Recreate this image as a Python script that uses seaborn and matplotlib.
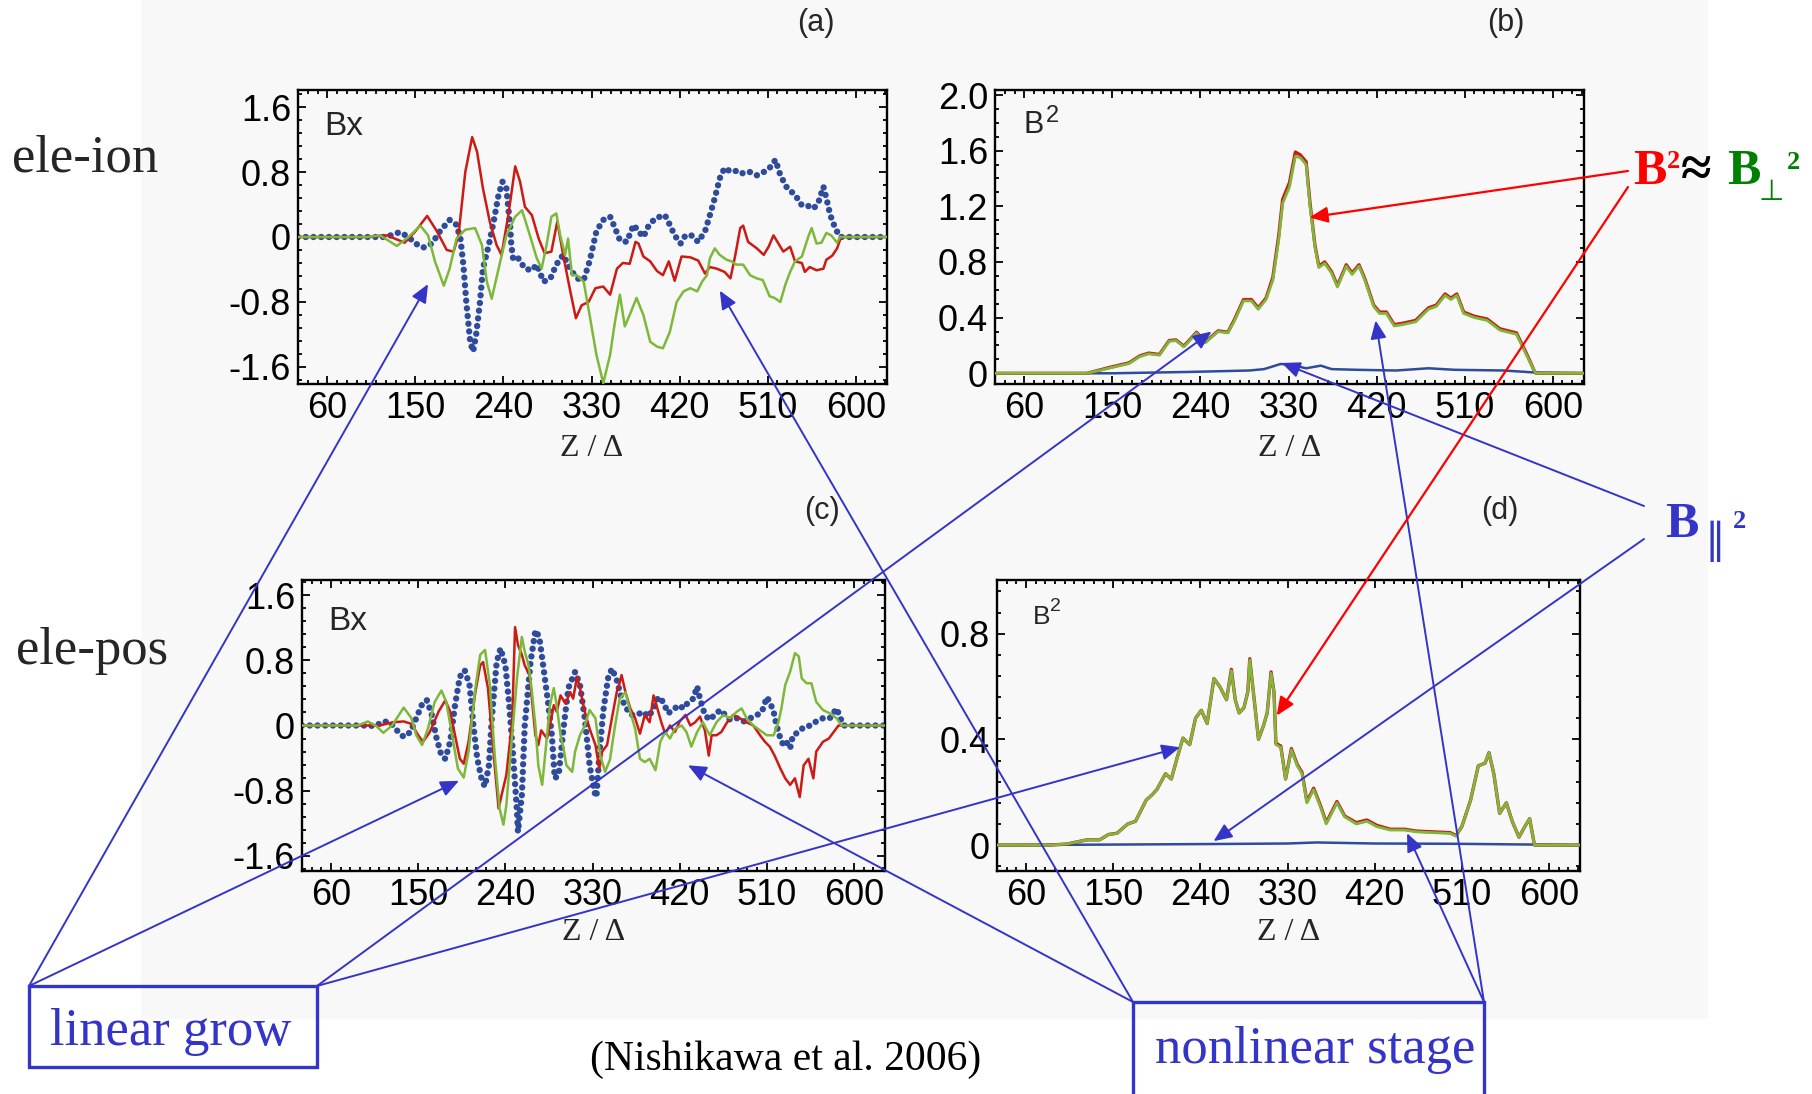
import matplotlib
matplotlib.use("Agg")
import matplotlib.pyplot as plt
import seaborn as sns
from matplotlib.patches import Rectangle, ConnectionPatch
from matplotlib.ticker import MultipleLocator

# ---------------- data ----------------
z_ticks = [60, 150, 240, 330, 420, 510, 600]
bx_ticks = [-1.6, -0.8, 0, 0.8, 1.6]
bx_ticklabels = ['-1.6', '-0.8', '0', '0.8', '1.6']
b2_ion_ticks = [0, 0.4, 0.8, 1.2, 1.6, 2.0]
b2_ion_ticklabels = ['0', '0.4', '0.8', '1.2', '1.6', '2.0']
b2_pos_ticks = [0, 0.4, 0.8]
b2_pos_ticklabels = ['0', '0.4', '0.8']

# (a) ele-ion, Bx
ion_red_z = [30, 100, 121, 131, 139, 150, 162, 172, 182, 189, 194, 201, 208, 213, 219, 226, 233, 238, 245, 252,
             257, 262, 269, 276, 282, 289, 295, 301, 308, 314, 320, 327, 334, 342, 349, 356, 362, 369, 375, 378,
             383, 390, 397, 403, 409, 415, 422, 431, 439, 446, 451, 458, 466, 472, 477, 482, 485, 490, 499, 506,
             511, 516, 521, 526, 533, 538, 545, 548, 553, 560, 567, 570, 576, 581, 585, 632]
ion_red_b = [0, 0, 0.02, -0.03, -0.07, 0.07, 0.26, 0.07, -0.16, -0.18, 0.02, 0.80, 1.23, 1.05, 0.60, 0.19, -0.10, -0.22, 0.27, 0.87,
             0.68, 0.37, 0.27, -0.02, -0.20, -0.18, 0.19, -0.22, -0.65, -1.00, -0.84, -0.80, -0.63, -0.61, -0.71, -0.39, -0.32, -0.33, -0.06, -0.08,
             -0.24, -0.30, -0.42, -0.47, -0.30, -0.54, -0.24, -0.25, -0.29, -0.45, -0.37, -0.39, -0.43, -0.51, -0.22, 0.11, 0.14, -0.06, -0.14, -0.22,
             -0.12, 0.02, -0.08, -0.18, -0.12, -0.30, -0.32, -0.43, -0.37, -0.41, -0.39, -0.28, -0.23, -0.14, 0, 0]

ion_green_z = [30, 100, 114, 131, 143, 155, 163, 170, 179, 185, 192, 201, 211, 218, 223, 228, 235, 243, 252, 259,
               267, 274, 279, 284, 289, 294, 298, 303, 306, 310, 315, 322, 328, 335, 342, 349, 354, 359, 364, 369,
               376, 383, 390, 397, 403, 410, 417, 424, 431, 438, 443, 448, 451, 456, 461, 468, 473, 478, 485, 492,
               499, 505, 512, 517, 523, 528, 533, 538, 545, 552, 555, 560, 565, 570, 575, 581, 584, 632]
ion_green_b = [0, 0, 0.02, -0.11, 0, 0.14, 0.02, -0.30, -0.60, -0.39, -0.02, 0.09, 0.11, -0.10, -0.55, -0.76, -0.39, 0.02, 0.25, 0.33,
               0.02, -0.26, -0.39, -0.10, 0.25, 0.29, 0.02, -0.22, -0.02, -0.47, -0.47, -0.55, -0.96, -1.45, -1.80, -1.45, -1.04, -0.71, -1.10, -0.96,
               -0.75, -0.96, -1.29, -1.35, -1.37, -1.17, -0.80, -0.67, -0.63, -0.67, -0.55, -0.47, -0.26, -0.14, -0.22, -0.28, -0.30, -0.34, -0.34, -0.47,
               -0.51, -0.53, -0.73, -0.75, -0.80, -0.59, -0.43, -0.30, -0.24, 0.02, 0.11, -0.08, -0.07, 0.05, 0.02, -0.07, 0, 0]

ion_blue_z = [30, 120, 134, 143, 150, 158, 167, 175, 185, 192, 196, 199, 202, 206, 209, 212, 216, 219, 225, 230,
              235, 239, 243, 245, 247, 248, 250, 255, 262, 269, 274, 281, 288, 294, 301, 308, 315, 322, 328, 335,
              342, 349, 354, 359, 366, 373, 378, 383, 388, 395, 400, 405, 410, 415, 421, 426, 432, 439, 446, 451,
              456, 461, 466, 473, 480, 485, 492, 499, 506, 512, 518, 523, 530, 538, 545, 550, 557, 562, 567, 570,
              574, 579, 584, 632]
ion_blue_b = [0, 0, 0.06, 0, -0.08, -0.13, -0.08, 0.07, 0.21, 0.15, -0.02, -0.34, -0.80, -1.29, -1.41, -1.21, -0.80, -0.39, -0.10, 0.19,
              0.52, 0.68, 0.60, 0.35, 0.11, -0.10, -0.28, -0.26, -0.39, -0.41, -0.34, -0.55, -0.51, -0.34, -0.22, -0.39, -0.51, -0.53, -0.30, 0.07,
              0.21, 0.25, 0.11, -0.04, -0.06, 0.15, 0.07, 0, 0.13, 0.23, 0.25, 0.27, 0.15, 0.02, -0.08, 0.02, 0.02, -0.06, 0.07, 0.27,
              0.48, 0.72, 0.85, 0.80, 0.82, 0.78, 0.80, 0.76, 0.80, 0.85, 0.95, 0.76, 0.60, 0.52, 0.39, 0.39, 0.35, 0.43, 0.62, 0.48,
              0.27, 0.11, 0, 0]

# (b) ele-ion, B^2
ion_b2_z = [30, 124, 146, 167, 178, 187, 198, 208, 215, 223, 236, 245, 258, 268, 275, 284, 292, 299, 307, 314,
            320, 324, 331, 337, 342, 348, 352, 357, 361, 367, 374, 380, 389, 395, 402, 408, 417, 423, 430, 438,
            447, 460, 473, 481, 490, 496, 502, 509, 520, 533, 546, 563, 574, 581, 583, 632]
ion_b2_total = [0, 0, 0.04, 0.075, 0.125, 0.145, 0.135, 0.235, 0.24, 0.195, 0.295, 0.225, 0.305, 0.295, 0.39, 0.53, 0.53, 0.47, 0.54, 0.69,
                0.99, 1.25, 1.37, 1.59, 1.57, 1.52, 1.22, 0.92, 0.77, 0.80, 0.73, 0.63, 0.78, 0.72, 0.78, 0.68, 0.49, 0.44, 0.44, 0.35,
                0.36, 0.38, 0.47, 0.49, 0.57, 0.54, 0.57, 0.44, 0.41, 0.39, 0.32, 0.29, 0.13, 0.02, 0, 0]
ion_b2_perp = [0, 0, 0.036, 0.07, 0.12, 0.14, 0.13, 0.23, 0.235, 0.19, 0.29, 0.22, 0.30, 0.29, 0.38, 0.52, 0.52, 0.46, 0.53, 0.67,
               0.96, 1.22, 1.34, 1.56, 1.55, 1.50, 1.20, 0.91, 0.76, 0.79, 0.72, 0.62, 0.77, 0.71, 0.77, 0.67, 0.48, 0.43, 0.43, 0.34,
               0.35, 0.37, 0.46, 0.48, 0.56, 0.53, 0.56, 0.43, 0.40, 0.38, 0.31, 0.28, 0.12, 0.02, 0, 0]
ion_b2_par_z = [30, 150, 230, 290, 305, 322, 333, 348, 363, 374, 400, 440, 473, 500, 550, 583, 632]
ion_b2_par = [0, 0, 0.01, 0.02, 0.03, 0.067, 0.06, 0.036, 0.055, 0.03, 0.025, 0.02, 0.036, 0.025, 0.02, 0.005, 0]

# (c) ele-pos, Bx
pos_red_z = [30, 110, 124, 135, 143, 150, 155, 162, 171, 178, 183, 188, 193, 197, 202, 209, 214, 217, 222, 228,
             233, 236, 241, 247, 250, 253, 257, 260, 265, 268, 271, 274, 277, 283, 286, 290, 293, 297, 302, 307,
             310, 314, 317, 322, 327, 333, 337, 340, 345, 350, 355, 357, 360, 364, 369, 374, 379, 384, 389, 393,
             396, 401, 405, 410, 415, 420, 426, 431, 436, 441, 446, 450, 453, 458, 463, 469, 475, 482, 489, 496,
             503, 508, 513, 518, 524, 529, 534, 539, 544, 548, 553, 558, 561, 568, 574, 579, 584, 632]
pos_red_b = [0, 0, 0.04, 0.05, 0.02, -0.12, -0.20, -0.08, 0.17, 0.31, 0.17, -0.12, -0.41, -0.47, -0.20, 0.41, 0.74, 0.78, 0.46, -0.37,
             -1.02, -0.86, -0.61, 0.05, 1.21, 0.99, 0.87, 0.74, 0.62, 0.25, -0.12, -0.24, -0.06, -0.16, 0, 0.25, 0.17, 0.37, 0.27, 0.41,
             0.33, 0.60, 0.46, 0.17, -0.04, -0.24, -0.53, -0.32, -0.24, 0.09, 0.41, 0.48, 0.62, 0.41, 0.21, 0.09, -0.10, 0.13, 0.04, 0.37,
             0.25, 0.04, -0.10, 0.00, -0.08, 0.05, 0.13, 0.00, 0.04, 0.11, -0.06, -0.37, -0.12, -0.12, -0.08, 0.04, 0.13, 0.09, 0.04, 0,
             -0.12, -0.20, -0.26, -0.37, -0.53, -0.65, -0.73, -0.65, -0.88, -0.49, -0.41, -0.65, -0.32, -0.20, -0.16, -0.08, 0, 0]

pos_green_z = [30, 80, 87, 92, 98, 107, 114, 123, 135, 143, 148, 154, 160, 167, 174, 179, 185, 191, 197, 202,
               209, 214, 219, 224, 229, 234, 238, 241, 247, 252, 257, 260, 264, 267, 271, 274, 278, 281, 286, 290,
               293, 297, 300, 303, 309, 312, 317, 322, 327, 333, 338, 343, 348, 353, 358, 364, 369, 374, 379, 384,
               389, 395, 400, 405, 410, 415, 422, 427, 432, 438, 444, 451, 458, 465, 472, 479, 484, 489, 496, 503,
               510, 517, 522, 525, 529, 534, 539, 543, 546, 551, 556, 561, 568, 575, 582, 587, 632]
pos_green_b = [0, 0, 0, 0.02, 0.05, -0.01, -0.09, 0, 0.22, 0.09, -0.12, -0.24, -0.04, 0.29, 0.43, 0.29, -0.12, -0.53, -0.64, -0.32,
               0.46, 0.87, 0.93, 0.50, -0.37, -1.02, -1.22, -0.98, -0.12, 0.58, 1.09, 0.91, 0.74, 0.46, 0, -0.49, -0.73, -0.37, 0.25, 0.46,
               0.25, -0.12, -0.28, -0.49, -0.57, -0.32, -0.12, 0, 0.19, 0.09, -0.37, -0.57, -0.42, -0.02, 0.33, 0.41, 0.17, -0.04, -0.41, -0.45,
               -0.41, -0.55, -0.20, -0.08, -0.16, -0.04, 0, -0.08, -0.26, -0.08, 0.04, -0.12, 0.04, 0.13, 0.09, 0.17, 0.21, 0.09, 0, -0.06,
               -0.12, -0.12, 0.04, 0.21, 0.50, 0.66, 0.89, 0.85, 0.58, 0.52, 0.52, 0.29, 0.19, 0.15, 0.09, 0, 0]

pos_blue_z = [30, 100, 105, 114, 121, 128, 135, 142, 148, 155, 159, 164, 169, 174, 178, 183, 188, 193, 198, 203,
              207, 211, 216, 219, 223, 226, 231, 235, 240, 244, 248, 252, 253, 257, 260, 266, 271, 275, 279, 284,
              288, 291, 295, 300, 305, 312, 317, 322, 327, 332, 334, 337, 341, 346, 350, 355, 360, 365, 370, 376,
              382, 388, 393, 398, 403, 408, 413, 419, 424, 429, 434, 438, 441, 446, 451, 456, 462, 467, 472, 479,
              486, 493, 500, 505, 510, 513, 517, 520, 524, 527, 530, 534, 537, 543, 548, 555, 561, 568, 575, 582,
              586, 589, 632]
pos_blue_b = [0, 0, -0.01, 0.05, 0.04, -0.06, -0.14, -0.08, 0.09, 0.29, 0.31, 0.13, -0.16, -0.37, -0.41, -0.20, 0.25, 0.60, 0.68, 0.50,
              0, -0.41, -0.69, -0.75, -0.49, 0.09, 0.78, 0.95, 0.74, 0.25, -0.37, -1.06, -1.31, -0.86, 0, 0.78, 1.17, 1.09, 0.74, 0.29,
              -0.12, -0.65, -0.61, -0.04, 0.46, 0.66, 0.50, 0.09, -0.49, -0.82, -0.88, -0.37, 0.17, 0.58, 0.70, 0.56, 0.33, 0.21, 0.13, 0.13,
              0.17, 0.11, 0.21, 0.35, 0.29, 0.15, 0.19, 0.25, 0.21, 0.29, 0.33, 0.48, 0.33, 0.13, 0.07, 0.13, 0.19, 0.13, 0.07, 0.09,
              0.05, 0.09, 0.13, 0.17, 0.35, 0.29, 0.17, 0, -0.16, -0.24, -0.20, -0.28, -0.12, -0.08, -0.02, 0, 0.05, 0.09, 0.09, 0.21,
              0.09, 0, 0]

# (d) ele-pos, B^2
pos_b2_z = [30, 84, 102, 123, 136, 145, 154, 165, 173, 184, 190, 195, 204, 210, 216, 222, 229, 235, 241, 247,
            254, 260, 267, 272, 276, 280, 285, 289, 291, 295, 300, 305, 309, 313, 316, 318, 323, 328, 334, 340,
            345, 350, 357, 364, 370, 381, 389, 401, 412, 422, 436, 451, 463, 481, 498, 504, 510, 519, 527, 534,
            538, 543, 549, 556, 562, 569, 575, 580, 585, 632]
pos_b2_total = [0, 0, 0.004, 0.02, 0.02, 0.04, 0.045, 0.08, 0.09, 0.17, 0.19, 0.21, 0.27, 0.25, 0.33, 0.405, 0.38, 0.48, 0.51, 0.46,
                0.63, 0.60, 0.55, 0.665, 0.55, 0.50, 0.52, 0.58, 0.705, 0.57, 0.40, 0.45, 0.50, 0.655, 0.58, 0.385, 0.375, 0.25, 0.365, 0.305,
                0.275, 0.165, 0.215, 0.15, 0.085, 0.165, 0.11, 0.085, 0.095, 0.075, 0.06, 0.06, 0.053, 0.05, 0.047, 0.036, 0.07, 0.17, 0.30, 0.31,
                0.35, 0.27, 0.12, 0.16, 0.09, 0.03, 0.07, 0.10, 0, 0]
pos_b2_perp = [0, 0, 0.004, 0.02, 0.02, 0.04, 0.044, 0.08, 0.09, 0.17, 0.19, 0.21, 0.27, 0.25, 0.33, 0.405, 0.38, 0.48, 0.51, 0.46,
               0.63, 0.60, 0.55, 0.66, 0.55, 0.50, 0.52, 0.58, 0.70, 0.57, 0.40, 0.45, 0.50, 0.65, 0.58, 0.38, 0.37, 0.25, 0.36, 0.30,
               0.27, 0.16, 0.21, 0.145, 0.08, 0.16, 0.107, 0.08, 0.09, 0.07, 0.057, 0.057, 0.05, 0.047, 0.044, 0.034, 0.07, 0.17, 0.30, 0.31,
               0.35, 0.27, 0.12, 0.16, 0.09, 0.03, 0.07, 0.10, 0, 0]
pos_b2_par_z = [30, 150, 250, 330, 360, 420, 500, 585, 632]
pos_b2_par = [0, 0.002, 0.004, 0.006, 0.01, 0.006, 0.005, 0.002, 0]

# ---------------- style ----------------
sns.set_theme(style="ticks")
plt.rcParams['font.family'] = ['Liberation Sans Narrow', 'Liberation Sans', 'DejaVu Sans']
plt.rcParams['axes.unicode_minus'] = False

W, H = 1812, 1094
RED = '#cc1a14'
GREEN = '#7db83a'
NAVY = '#2f4b9b'
ABLUE = '#3434c8'
SERIF = ['Liberation Serif', 'DejaVu Serif']


def fxy(x, y):
    return x / W, 1 - y / H


fig = plt.figure(figsize=(W / 100, H / 100), dpi=100)
fig.patch.set_facecolor('white')
fig.add_artist(Rectangle(fxy(141, 1019), (1708 - 141) / W, 1019 / H, transform=fig.transFigure,
                         facecolor='#f8f8f8', edgecolor='none', zorder=-5))

ax_a = fig.add_axes([298 / W, 1 - 384 / H, 589 / W, 294 / H])
ax_b = fig.add_axes([995 / W, 1 - 384 / H, 589 / W, 294 / H])
ax_c = fig.add_axes([302 / W, 1 - 871 / H, 583 / W, 291 / H])
ax_d = fig.add_axes([997 / W, 1 - 871 / H, 583 / W, 291 / H])


def style_ax(ax, yticks, ylabels, ylim, minor_y):
    ax.set_facecolor('#f8f8f8')
    ax.grid(False)
    ax.set_xlim(30, 632)
    ax.set_ylim(*ylim)
    ax.set_xticks(z_ticks)
    ax.set_xticklabels([str(t) for t in z_ticks])
    ax.xaxis.set_minor_locator(MultipleLocator(10))
    ax.set_yticks(yticks)
    ax.set_yticklabels(ylabels)
    ax.yaxis.set_minor_locator(MultipleLocator(minor_y))
    ax.tick_params(which='both', direction='in', top=True, right=True, color='black', width=1.3)
    ax.tick_params(which='major', length=6, labelsize=26, pad=5, labelcolor='black')
    ax.tick_params(which='minor', length=3)
    for s in ax.spines.values():
        s.set_visible(True)
        s.set_linewidth(1.7)
        s.set_color('black')
    ax.set_xlabel('')
    ax.set_ylabel('')


def dotted(ax, z, b):
    sns.lineplot(x=z, y=b, ax=ax, color=NAVY, linewidth=4.6, linestyle=(0, (0.01, 1.2)),
                 dash_capstyle='round', errorbar=None, zorder=2)


def solid(ax, z, b, color, lw, zo):
    sns.lineplot(x=z, y=b, ax=ax, color=color, linewidth=lw, errorbar=None, zorder=zo)


# (a)
dotted(ax_a, ion_blue_z, ion_blue_b)
solid(ax_a, ion_red_z, ion_red_b, RED, 1.8, 3)
solid(ax_a, ion_green_z, ion_green_b, GREEN, 1.8, 4)
style_ax(ax_a, bx_ticks, bx_ticklabels, (-1.81, 1.81), 0.16)

# (b)
solid(ax_b, ion_b2_par_z, ion_b2_par, NAVY, 1.8, 2)
solid(ax_b, ion_b2_z, ion_b2_total, RED, 2.4, 3)
solid(ax_b, ion_b2_z, ion_b2_perp, GREEN, 2.0, 4)
style_ax(ax_b, b2_ion_ticks, b2_ion_ticklabels, (-0.077, 2.036), 0.1)

# (c)
dotted(ax_c, pos_blue_z, pos_blue_b)
solid(ax_c, pos_red_z, pos_red_b, RED, 1.8, 3)
solid(ax_c, pos_green_z, pos_green_b, GREEN, 1.8, 4)
style_ax(ax_c, bx_ticks, bx_ticklabels, (-1.79, 1.79), 0.16)

# (d)
solid(ax_d, pos_b2_par_z, pos_b2_par, NAVY, 1.8, 2)
solid(ax_d, pos_b2_z, pos_b2_total, RED, 2.4, 3)
solid(ax_d, pos_b2_z, pos_b2_perp, GREEN, 2.0, 4)
style_ax(ax_d, b2_pos_ticks, b2_pos_ticklabels, (-0.098, 1.003), 0.08)

# panel inner labels
ax_a.text(0.044, 0.847, 'Bx', transform=ax_a.transAxes, fontsize=24, va='baseline', ha='left')
ax_c.text(0.045, 0.828, 'Bx', transform=ax_c.transAxes, fontsize=24, va='baseline', ha='left')
ax_b.text(0.049, 0.854, 'B', transform=ax_b.transAxes, fontsize=22, va='baseline', ha='left')
ax_b.text(0.086, 0.891, '2', transform=ax_b.transAxes, fontsize=17, va='baseline', ha='left')
ax_d.text(0.061, 0.849, 'B', transform=ax_d.transAxes, fontsize=19, va='baseline', ha='left')
ax_d.text(0.091, 0.894, '2', transform=ax_d.transAxes, fontsize=14, va='baseline', ha='left')

# panel letters and axis labels
for lab, (x, y) in zip(['(a)', '(b)', '(c)', '(d)'], [(816, 23), (1506, 23), (822, 511), (1500, 511)]):
    fig.text(*fxy(x, y), lab, ha='center', va='center', fontsize=22)
for (x, y) in [(592, 449), (1290, 449), (594, 932), (1289, 932)]:
    fig.text(*fxy(x, y), 'Z / Δ', ha='center', va='center', fontsize=23, family=SERIF)

# row labels
fig.text(*fxy(12, 171), 'ele-ion', ha='left', va='baseline', fontsize=38, family=SERIF)
fig.text(*fxy(16, 664), 'ele-pos', ha='left', va='baseline', fontsize=38, family=SERIF)

# B^2 ~ Bperp^2 annotation
fig.text(*fxy(1633, 184), 'B', color='#ff0000', fontsize=36, weight='bold', family=SERIF, va='baseline')
fig.text(*fxy(1667, 168), '2', color='#ff0000', fontsize=19, weight='bold', family=SERIF, va='baseline')
fig.text(*fxy(1681, 186), '≈', color='black', fontsize=40, weight='bold', family=SERIF, va='baseline')
fig.text(*fxy(1727, 184), 'B', color='#008000', fontsize=36, weight='bold', family=SERIF, va='baseline')
fig.text(*fxy(1759, 200), '⊥', color='#008000', fontsize=21, family=['DejaVu Sans'], va='baseline')
fig.text(*fxy(1787, 169), '2', color='#008000', fontsize=19, weight='bold', family=SERIF, va='baseline')

# B_par^2 annotation
fig.text(*fxy(1665, 537), 'B', color=ABLUE, fontsize=36, weight='bold', family=SERIF, va='baseline')
fig.text(*fxy(1704, 553), '∥', color=ABLUE, fontsize=30, family=['DejaVu Sans'], va='baseline')
fig.text(*fxy(1733, 528), '2', color=ABLUE, fontsize=19, weight='bold', family=SERIF, va='baseline')

# boxes
fig.add_artist(Rectangle(fxy(29, 1067), (317 - 29) / W, (1067 - 986) / H, transform=fig.transFigure,
                         fill=False, edgecolor=ABLUE, linewidth=2.4, zorder=6))
fig.add_artist(Rectangle(fxy(1133, 1120), (1484 - 1133) / W, (1120 - 1002) / H, transform=fig.transFigure,
                         fill=False, edgecolor=ABLUE, linewidth=2.4, zorder=6, clip_on=False))
fig.text(*fxy(171, 1045), 'linear grow', color=ABLUE, fontsize=38, family=SERIF, ha='center', va='baseline')
fig.text(*fxy(1315, 1063), 'nonlinear stage', color=ABLUE, fontsize=38, family=SERIF, ha='center', va='baseline')
fig.text(*fxy(786, 1070), '(Nishikawa et al. 2006)', color='black', fontsize=30, family=SERIF, ha='center', va='baseline')


# arrows
def arrow(src, ax, tip, color, lw=1.4):
    cp = ConnectionPatch(xyA=fxy(*src), coordsA='figure fraction', xyB=tip, coordsB='data', axesB=ax,
                         arrowstyle='-|>,head_length=0.85,head_width=0.37', mutation_scale=13,
                         color=color, linewidth=lw, shrinkA=0, shrinkB=0, zorder=7)
    fig.add_artist(cp)


arrow((29, 986), ax_a, (162.9, -0.58), ABLUE)
arrow((29, 986), ax_c, (192.1, -0.68), ABLUE)
arrow((317, 986), ax_b, (251.3, 0.30), ABLUE)
arrow((317, 986), ax_d, (219.0, 0.37), ABLUE)
arrow((1133, 1002), ax_a, (461.1, -0.66), ABLUE)
arrow((1133, 1002), ax_c, (428.6, -0.49), ABLUE)
arrow((1484, 1002), ax_b, (419.0, 0.38), ABLUE)
arrow((1484, 1002), ax_d, (453.4, 0.045), ABLUE)
arrow((1644, 506), ax_b, (323.1, 0.074), ABLUE)
arrow((1644, 539), ax_d, (253.7, 0.015), ABLUE)
arrow((1628, 171), ax_b, (351.4, 1.12), '#ff0000', 1.6)
arrow((1628, 187), ax_d, (318.8, 0.49), '#ff0000', 1.6)

fig.savefig('out.png', dpi=100)
